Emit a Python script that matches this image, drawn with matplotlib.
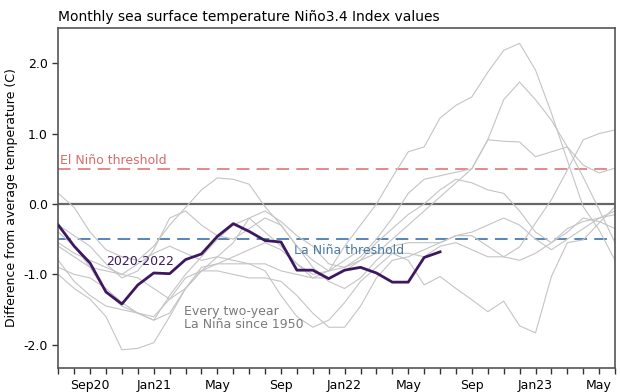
import numpy as np
import matplotlib
matplotlib.use("Agg")
from matplotlib import pyplot as plt

# months from Jul of year 1 to Jun of year 4 (index 0..35)
months = list(range(36))
tick_pos = [2, 6, 10, 14, 18, 22, 26, 30, 34]
tick_labels = ['Sep20', 'Jan21', 'May', 'Sep', 'Jan22', 'May', 'Sep', 'Jan23', 'May']

# 2020-2022 monthly Nino3.4 anomaly (Jul 2020 - Jul 2022)
nino_2020 = [-0.30, -0.60, -0.84, -1.25, -1.42, -1.15, -0.98, -0.99, -0.79, -0.71, -0.46, -0.28,
             -0.39, -0.52, -0.54, -0.94, -0.94, -1.06, -0.94, -0.90, -0.98, -1.11, -1.11, -0.76, -0.68]

# past two-year La Nina events (gray lines)
past_a = [-0.55, -0.70, -0.80, -0.90, -1.00, -1.05, -1.20, -1.35, -1.20, -0.95, -0.85, -0.85,
          -0.85, -0.85, -0.95, -1.00, -1.05, -0.95, -0.60, -0.30, 0.00, 0.38, 0.74, 0.81,
          1.22, 1.40, 1.52, 1.87, 2.18, 2.28, 1.90, 1.29, 0.62, -0.04, -0.37, -0.80]
past_b = [-0.40, -0.60, -0.90, -1.25, -1.45, -1.55, -1.65, -1.55, -1.20, -0.95, -0.75, -0.55,
          -0.20, -0.10, -0.25, -0.45, -0.60, -0.85, -0.90, -0.75, -0.50, -0.20, 0.15, 0.35,
          0.40, 0.45, 0.50, 0.91, 1.48, 1.73, 1.48, 1.19, 0.81, 0.38, -0.08, -0.55]
past_c = [0.15, -0.05, -0.40, -0.65, -0.75, -0.80, -0.60, -0.30, -0.05, 0.20, 0.37, 0.35,
          0.28, -0.04, -0.30, -0.60, -0.80, -0.95, -0.90, -0.80, -0.70, -0.50, -0.30, -0.10,
          0.10, 0.30, 0.50, 0.91, 0.89, 0.88, 0.67, 0.74, 0.81, 0.55, 0.44, 0.51]
past_d = [-0.60, -0.75, -0.90, -0.95, -1.00, -0.85, -0.70, -0.60, -0.70, -0.80, -0.75, -0.80,
          -0.85, -0.95, -1.30, -1.60, -1.75, -1.65, -1.40, -1.10, -0.90, -0.70, -0.70, -0.75,
          -0.60, -0.55, -0.65, -0.75, -0.75, -0.61, -0.27, 0.06, 0.48, 0.91, 1.00, 1.05]
past_e = [-1.00, -1.20, -1.35, -1.60, -2.07, -2.05, -1.97, -1.60, -1.20, -0.90, -0.85, -0.75,
          -0.65, -0.55, -0.65, -0.85, -1.00, -0.95, -0.80, -0.65, -0.70, -0.70, -0.80, -1.15,
          -1.03, -1.20, -1.36, -1.53, -1.38, -1.73, -1.83, -1.03, -0.55, -0.51, -0.27, -0.04]
past_f = [-0.90, -1.00, -1.05, -1.20, -1.40, -1.55, -1.60, -1.35, -1.05, -0.95, -0.95, -1.00,
          -1.05, -1.05, -1.10, -1.30, -1.55, -1.75, -1.75, -1.45, -1.05, -0.80, -0.75, -0.65,
          -0.55, -0.45, -0.45, -0.60, -0.75, -0.80, -0.70, -0.55, -0.35, -0.25, -0.20, -0.15]
past_g = [-0.80, -1.10, -1.30, -1.45, -1.50, -1.55, -1.65, -1.30, -1.00, -0.75, -0.50, -0.30,
          -0.20, -0.40, -0.60, -0.85, -1.05, -1.05, -0.95, -0.80, -0.55, -0.35, -0.15, 0.00,
          0.20, 0.35, 0.30, 0.20, 0.15, -0.10, -0.40, -0.55, -0.40, -0.20, -0.25, -0.35]
past_h = [-0.30, -0.45, -0.60, -0.85, -1.05, -0.95, -0.65, -0.20, -0.10, -0.30, -0.45, -0.50,
          -0.35, -0.20, -0.30, -0.60, -0.90, -1.10, -1.20, -1.05, -0.80, -0.60, -0.55, -0.55,
          -0.55, -0.45, -0.40, -0.30, -0.20, -0.30, -0.50, -0.65, -0.50, -0.35, -0.20, -0.10]
past = [past_a, past_b, past_c, past_d, past_e, past_f, past_g, past_h]

fig = plt.figure(figsize=(6.2, 3.92), dpi=100)
ax = fig.add_axes([0.094, 0.061, 0.898, 0.868])

for p in past:
    ax.plot(months, p, color='#c4c4c4', lw=0.8, zorder=2)

ax.axhline(0, color='#666666', lw=1.6, zorder=1)
ax.axhline(0.5, color='#e08080', lw=1.3, ls=(0, (7, 4)), zorder=1)
ax.axhline(-0.5, color='#4a7db0', lw=1.3, ls=(0, (7, 4)), zorder=1)

ax.plot(months[:len(nino_2020)], nino_2020, color='#3d1860', lw=2, zorder=3)

ax.text(0.1, 0.52, 'El Niño threshold', color='#d86a6a', fontsize=9, va='bottom')
ax.text(14.8, -0.57, 'La Niña threshold', color='#4a7aa5', fontsize=9, va='top')
ax.text(3.0, -0.73, '2020-2022', color='#3d1860', fontsize=9, va='top')
ax.text(7.9, -1.43, 'Every two-year\nLa Niña since 1950', color='#7a7a7a', fontsize=9,
        va='top', linespacing=1.0)

ax.set_xlim(0, 35)
ax.set_ylim(-2.33, 2.5)
ax.set_xticks(tick_pos)
ax.set_xticklabels(tick_labels, fontsize=9)
ax.set_xticks(months, minor=True)
ax.tick_params(axis='x', which='both', length=4, width=1, color='#333333')
ax.set_yticks([-2, -1, 0, 1, 2])
ax.set_yticklabels(['-2.0', '-1.0', '0.0', '1.0', '2.0'], fontsize=9)
ax.tick_params(axis='y', length=4, width=1, color='#333333')
ax.set_ylabel('Difference from average temperature (C)', fontsize=9, labelpad=4)
ax.set_title('Monthly sea surface temperature Niño3.4 Index values', fontsize=10,
             loc='left', pad=5)
for s in ax.spines.values():
    s.set_color('#555555')
    s.set_linewidth(1.2)

plt.savefig('out.png', dpi=100)
